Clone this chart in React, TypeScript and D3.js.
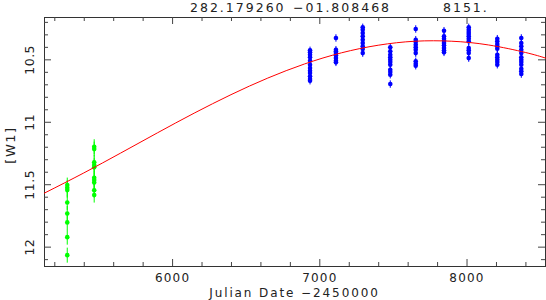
import { useRef, useEffect } from 'react';
import * as d3 from 'd3';

// Light-curve data (Julian Date - 2450000, W1 magnitude)
const greenJD = [5288, 5471];
const greenMags = [
  [11.507, 11.529, 11.547, 11.646, 11.734, 11.806, 11.924, 12.068],
  [11.2, 11.219, 11.325, 11.347, 11.365, 11.449, 11.467, 11.486, 11.548, 11.587]
];
const greenErr = 0.06;

const blueJD = [6937, 7113, 7295, 7482, 7655, 7847, 8015, 8209, 8372];
const blueMags = [
  [10.428, 10.444, 10.463, 10.484, 10.511, 10.543, 10.57, 10.591, 10.61, 10.636, 10.658, 10.671],
  [10.329, 10.423, 10.436, 10.45, 10.468, 10.49, 10.511, 10.524],
  [10.244, 10.263, 10.289, 10.316, 10.343, 10.369, 10.396, 10.417, 10.45],
  [10.404, 10.436, 10.463, 10.484, 10.503, 10.522, 10.543, 10.583, 10.602, 10.623, 10.698],
  [10.257, 10.343, 10.361, 10.383, 10.404, 10.423, 10.45, 10.516, 10.535, 10.551],
  [10.271, 10.316, 10.335, 10.351, 10.369, 10.388, 10.409, 10.428, 10.444],
  [10.244, 10.263, 10.281, 10.297, 10.316, 10.335, 10.356, 10.409, 10.428, 10.45, 10.49],
  [10.335, 10.356, 10.377, 10.396, 10.415, 10.463, 10.484, 10.503, 10.522, 10.543],
  [10.329, 10.369, 10.396, 10.423, 10.45, 10.484, 10.503, 10.522, 10.543, 10.575, 10.596, 10.618]
];
const blueErr = 0.03;

// fitted curve
const fitJD = [5130, 5400, 5650, 5900, 6150, 6400, 6650, 6900, 7150, 7400, 7650, 7900, 8150, 8400, 8540];
const fitMag = [11.573, 11.41, 11.251, 11.089, 10.931, 10.783, 10.65, 10.537, 10.448, 10.387, 10.355, 10.355, 10.385, 10.445, 10.491];

const xTicks = [6000, 7000, 8000];
const yTicks = [10.5, 11, 11.5, 12];
const titleParts = ["282.179260", "\u221201.808468", "8151."];
const xLabel = "Julian Date \u22122450000";
const yLabel = "[W1]";

const FONT = "'DejaVu Sans', sans-serif";

export default function App() {
  const ref = useRef<SVGSVGElement>(null);

  useEffect(() => {
    if (!ref.current) return;
    const width = 546;
    const height = 300;
    const left = 44, right = 545, top = 17, bottom = 266;

    const svg = d3.select(ref.current)
      .attr('width', width)
      .attr('height', height);
    svg.selectAll("*").remove();

    const x = d3.scaleLinear().domain([5130, 8533]).range([left, right]);
    const y = d3.scaleLinear().domain([10.161, 12.155]).range([top, bottom]);

    const xMinor = d3.range(5200, 8600, 200).filter(v => !xTicks.includes(v));
    const yMinor = d3.range(102, 122).map(v => v / 10).filter(v => !yTicks.includes(v));

    const tickColor = "#444";

    // frame
    svg.append("rect")
      .attr("x", left + 0.5).attr("y", top + 0.5)
      .attr("width", right - left).attr("height", bottom - top)
      .attr("fill", "none").attr("stroke", "#333");

    const addAxis = (axis: any, tr: string) => {
      const g = svg.append("g").attr("transform", tr).call(axis);
      g.select(".domain").remove();
      g.selectAll("line").attr("stroke", tickColor);
      return g;
    };

    // bottom
    const gx = addAxis(d3.axisBottom(x).tickValues(xTicks).tickSize(-7).tickPadding(7).tickFormat(d => String(d)),
      `translate(0,${bottom})`);
    gx.selectAll("text")
      .attr("font-family", FONT).attr("font-size", 12)
      .attr("letter-spacing", 1.2).attr("fill", "#222");
    addAxis(d3.axisBottom(x).tickValues(xMinor).tickSize(-4).tickFormat(() => ""), `translate(0,${bottom})`);
    // top
    addAxis(d3.axisTop(x).tickValues(xTicks).tickSize(-7).tickFormat(() => ""), `translate(0,${top})`);
    addAxis(d3.axisTop(x).tickValues(xMinor).tickSize(-4).tickFormat(() => ""), `translate(0,${top})`);
    // left
    const gy = addAxis(d3.axisLeft(y).tickValues(yTicks).tickSize(-7).tickFormat(d => String(d)),
      `translate(${left},0)`);
    gy.selectAll("text")
      .attr("x", null).attr("dy", null)
      .attr("text-anchor", "middle")
      .attr("transform", "translate(-10,0) rotate(-90)")
      .attr("font-family", FONT).attr("font-size", 12.5)
      .attr("letter-spacing", 0.5).attr("fill", "#222");
    addAxis(d3.axisLeft(y).tickValues(yMinor).tickSize(-4).tickFormat(() => ""), `translate(${left},0)`);
    // right
    addAxis(d3.axisRight(y).tickValues(yTicks).tickSize(-7).tickFormat(() => ""), `translate(${right},0)`);
    addAxis(d3.axisRight(y).tickValues(yMinor).tickSize(-4).tickFormat(() => ""), `translate(${right},0)`);

    // data with error bars
    const drawSet = (jds: number[], mags: number[][], err: number, color: string) => {
      const pts = jds.flatMap((jd, i) => mags[i].map(m => ({ jd, m })));
      const g = svg.append("g");
      g.selectAll("line")
        .data(pts)
        .join("line")
        .attr("x1", d => x(d.jd)).attr("x2", d => x(d.jd))
        .attr("y1", d => y(d.m - err)).attr("y2", d => y(d.m + err))
        .attr("stroke", color).attr("stroke-width", 1);
      g.selectAll("circle")
        .data(pts)
        .join("circle")
        .attr("cx", d => x(d.jd)).attr("cy", d => y(d.m))
        .attr("r", 2.3)
        .attr("fill", color);
    };
    drawSet(greenJD, greenMags, greenErr, "#00ff00");
    drawSet(blueJD, blueMags, blueErr, "#0000ff");

    // fit curve
    const clip = svg.append("clipPath").attr("id", "plotclip");
    clip.append("rect").attr("x", left).attr("y", top).attr("width", right - left + 1).attr("height", bottom - top);
    const line = d3.line<number>()
      .x((_, i) => x(fitJD[i]))
      .y(d => y(d))
      .curve(d3.curveNatural);
    svg.append("path")
      .datum(fitMag)
      .attr("clip-path", "url(#plotclip)")
      .attr("fill", "none")
      .attr("stroke", "#ff0000")
      .attr("stroke-width", 1)
      .attr("d", line);

    // title
    const titleX = [190, 293, 443];
    svg.selectAll(".title")
      .data(titleParts)
      .join("text")
      .attr("class", "title")
      .attr("x", (_, i) => titleX[i])
      .attr("y", 12)
      .attr("font-family", FONT).attr("font-size", 12.5)
      .attr("letter-spacing", 2).attr("fill", "#222")
      .text(d => d);

    // axis labels
    svg.append("text")
      .attr("x", (left + right) / 2).attr("y", 296.5)
      .attr("text-anchor", "middle")
      .attr("font-family", FONT).attr("font-size", 12)
      .attr("letter-spacing", 1.9).attr("fill", "#222")
      .text(xLabel);

    svg.append("text")
      .attr("transform", `translate(15,145) rotate(-90)`)
      .attr("text-anchor", "middle")
      .attr("font-family", FONT).attr("font-size", 13)
      .attr("letter-spacing", 1.5).attr("fill", "#222")
      .text(yLabel);
  }, []);

  return (
    <svg ref={ref} style={{ position: 'absolute', left: 0, top: 0, background: '#fff' }}></svg>
  );
}
